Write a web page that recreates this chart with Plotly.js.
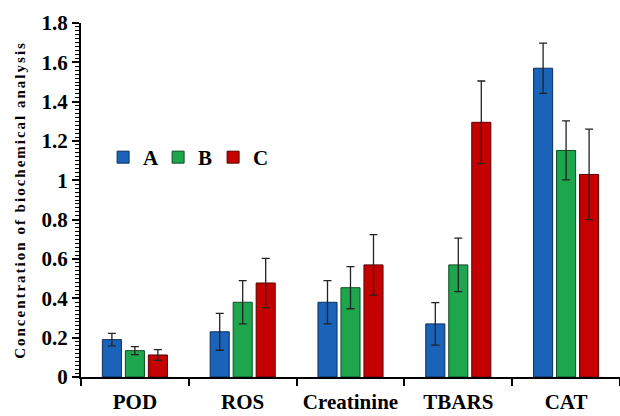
<!DOCTYPE html>
<html><head><meta charset="utf-8">
<script src="https://cdn.plot.ly/plotly-3.0.1.min.js"></script>
<style>body{margin:0;padding:0;background:#fff}#chart{width:620px;height:416px}</style>
</head><body><div id="chart"></div>
<script>
const categories = ["POD", "ROS", "Creatinine", "TBARS", "CAT"];
const seriesNames = ["A", "B", "C"];
const valuesA = [0.19, 0.23, 0.38, 0.27, 1.57];
const valuesB = [0.134, 0.38, 0.454, 0.57, 1.152];
const valuesC = [0.112, 0.478, 0.57, 1.295, 1.03];
const errA = [0.032, 0.094, 0.11, 0.108, 0.128];
const errB = [0.02, 0.11, 0.107, 0.136, 0.15];
const errC = [0.027, 0.125, 0.154, 0.21, 0.23];
const yTickVals = [0, 0.2, 0.4, 0.6, 0.8, 1, 1.2, 1.4, 1.6, 1.8];
const yTickText = ["0", "0.2", "0.4", "0.6", "0.8", "1", "1.2", "1.4", "1.6", "1.8"];
const colors = ["#1a63b8", "#1ea64e", "#c40000"];
const borderColors = ["#0d2f5a", "#0e4d25", "#5a0000"];

const vals = [valuesA, valuesB, valuesC];
const errs = [errA, errB, errC];
const font = "Liberation Serif, Times New Roman, serif";

const traces = seriesNames.map((n, i) => ({
  type: "bar", name: n, x: categories, y: vals[i],
  marker: {color: colors[i], line: {color: borderColors[i], width: 1}},
  error_y: {type: "data", array: errs[i], visible: true, color: "#222", thickness: 1.3, width: 4}
}));

const layout = {
  width: 620, height: 416,
  margin: {l: 81, r: 0, t: 23, b: 39},
  paper_bgcolor: "#fff", plot_bgcolor: "#fff",
  barmode: "group", bargap: 0.36, bargroupgap: 0.17,
  showlegend: true,
  legend: {orientation: "h", x: 0.041, y: 0.62, xanchor: "left", yanchor: "middle",
    entrywidth: 10, entrywidthmode: "pixels",
    font: {family: font, size: 21, color: "#000", weight: "bold"}, itemwidth: 30, bgcolor: "rgba(0,0,0,0)", traceorder: "normal"},
  font: {family: font, color: "#000"},
  xaxis: {
    showline: true, linecolor: "#000", linewidth: 2,
    ticks: "outside", tickson: "boundaries", ticklen: 7, tickwidth: 2, tickcolor: "#000",
    ticklabelstandoff: 5, tickangle: 0,
    tickfont: {family: font, size: 21, color: "#000", weight: "bold"},
    showgrid: false, zeroline: false
  },
  yaxis: {
    range: [0, 1.8], tickvals: yTickVals, ticktext: yTickText,
    showline: true, linecolor: "#000", linewidth: 2,
    ticks: "outside", ticklen: 7, tickwidth: 2, tickcolor: "#000",
    minor: {dtick: 0.02, ticks: "outside", ticklen: 4, tickwidth: 1, tickcolor: "#000", showgrid: false},
    tickfont: {family: font, size: 21, color: "#000", weight: "bold"},
    showgrid: false, zeroline: false,
    title: {text: "Concentration of biochemical analysis", font: {family: font, size: 15, color: "#000", weight: "bold"}, standoff: 12}
  }
};

Plotly.newPlot("chart", traces, layout, {displayModeBar: false, staticPlot: true}).then(() => {
  const t = document.querySelector(".ytitle");
  if (t) t.style.letterSpacing = "2px";
});
</script></body></html>
